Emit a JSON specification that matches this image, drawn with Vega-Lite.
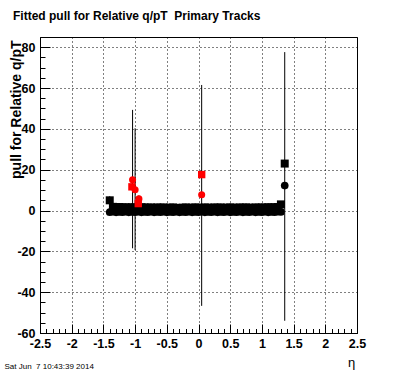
{
  "$schema": "https://vega.github.io/schema/vega-lite/v6.json",
  "width": 317,
  "height": 296,
  "autosize": {"type": "none"},
  "padding": {"left": 40, "top": 37, "right": 39, "bottom": 39},
  "background": "white",
  "title": {"text": "Fitted pull for Relative q/pT\u00a0 Primary Tracks", "anchor": "start", "frame": "group", "dx": -27, "offset": 5, "font": "Liberation Sans", "fontSize": 12, "fontWeight": "bold", "color": "black", "baseline": "alphabetic"},
  "data": {"values": [
    {"eta": -1.40, "pull": 5.0, "lo": 3.3, "hi": 7.0, "series": "set1"},
    {"eta": -1.35, "pull": 1.8, "lo": 1.2, "hi": 2.4, "series": "set1"},
    {"eta": -1.30, "pull": 1.6, "lo": 1.0, "hi": 2.2, "series": "set1"},
    {"eta": -1.25, "pull": 1.7, "lo": 1.1, "hi": 2.3, "series": "set1"},
    {"eta": -1.20, "pull": 1.5, "lo": 0.9, "hi": 2.1, "series": "set1"},
    {"eta": -1.15, "pull": 1.6, "lo": 1.0, "hi": 2.2, "series": "set1"},
    {"eta": -1.10, "pull": 1.4, "lo": 0.8, "hi": 2.0, "series": "set1"},
    {"eta": -1.05, "pull": 1.6, "lo": 1.0, "hi": 2.2, "series": "set1"},
    {"eta": -1.00, "pull": 1.5, "lo": 0.9, "hi": 2.1, "series": "set1"},
    {"eta": -0.95, "pull": 1.4, "lo": 0.8, "hi": 2.0, "series": "set1"},
    {"eta": -0.90, "pull": 1.6, "lo": 1.0, "hi": 2.2, "series": "set1"},
    {"eta": -0.85, "pull": 1.5, "lo": 0.9, "hi": 2.1, "series": "set1"},
    {"eta": -0.80, "pull": 1.4, "lo": 0.8, "hi": 2.0, "series": "set1"},
    {"eta": -0.75, "pull": 1.5, "lo": 0.9, "hi": 2.1, "series": "set1"},
    {"eta": -0.70, "pull": 1.3, "lo": 0.7, "hi": 1.9, "series": "set1"},
    {"eta": -0.65, "pull": 1.5, "lo": 0.9, "hi": 2.1, "series": "set1"},
    {"eta": -0.60, "pull": 1.4, "lo": 0.8, "hi": 2.0, "series": "set1"},
    {"eta": -0.55, "pull": 1.5, "lo": 0.9, "hi": 2.1, "series": "set1"},
    {"eta": -0.50, "pull": 1.3, "lo": 0.7, "hi": 1.9, "series": "set1"},
    {"eta": -0.45, "pull": 1.4, "lo": 0.8, "hi": 2.0, "series": "set1"},
    {"eta": -0.40, "pull": 1.5, "lo": 0.9, "hi": 2.1, "series": "set1"},
    {"eta": -0.35, "pull": 1.3, "lo": 0.7, "hi": 1.9, "series": "set1"},
    {"eta": -0.30, "pull": 0.9, "lo": 0.3, "hi": 1.5, "series": "set1"},
    {"eta": -0.25, "pull": 1.4, "lo": 0.8, "hi": 2.0, "series": "set1"},
    {"eta": -0.20, "pull": 1.5, "lo": 0.9, "hi": 2.1, "series": "set1"},
    {"eta": -0.15, "pull": 1.3, "lo": 0.7, "hi": 1.9, "series": "set1"},
    {"eta": -0.10, "pull": 1.4, "lo": 0.8, "hi": 2.0, "series": "set1"},
    {"eta": -0.05, "pull": 1.5, "lo": 0.9, "hi": 2.1, "series": "set1"},
    {"eta": 0.00, "pull": 1.4, "lo": 0.8, "hi": 2.0, "series": "set1"},
    {"eta": 0.05, "pull": 1.3, "lo": 0.7, "hi": 1.9, "series": "set1"},
    {"eta": 0.10, "pull": 1.5, "lo": 0.9, "hi": 2.1, "series": "set1"},
    {"eta": 0.15, "pull": 1.4, "lo": 0.8, "hi": 2.0, "series": "set1"},
    {"eta": 0.20, "pull": 1.3, "lo": 0.7, "hi": 1.9, "series": "set1"},
    {"eta": 0.25, "pull": 1.5, "lo": 0.9, "hi": 2.1, "series": "set1"},
    {"eta": 0.30, "pull": 1.4, "lo": 0.8, "hi": 2.0, "series": "set1"},
    {"eta": 0.35, "pull": 1.5, "lo": 0.9, "hi": 2.1, "series": "set1"},
    {"eta": 0.40, "pull": 1.3, "lo": 0.7, "hi": 1.9, "series": "set1"},
    {"eta": 0.45, "pull": 1.4, "lo": 0.8, "hi": 2.0, "series": "set1"},
    {"eta": 0.50, "pull": 1.5, "lo": 0.9, "hi": 2.1, "series": "set1"},
    {"eta": 0.55, "pull": 1.4, "lo": 0.8, "hi": 2.0, "series": "set1"},
    {"eta": 0.60, "pull": 1.3, "lo": 0.7, "hi": 1.9, "series": "set1"},
    {"eta": 0.65, "pull": 1.5, "lo": 0.9, "hi": 2.1, "series": "set1"},
    {"eta": 0.70, "pull": 1.4, "lo": 0.8, "hi": 2.0, "series": "set1"},
    {"eta": 0.75, "pull": 1.5, "lo": 0.9, "hi": 2.1, "series": "set1"},
    {"eta": 0.80, "pull": 1.4, "lo": 0.8, "hi": 2.0, "series": "set1"},
    {"eta": 0.85, "pull": 1.3, "lo": 0.7, "hi": 1.9, "series": "set1"},
    {"eta": 0.90, "pull": 1.5, "lo": 0.9, "hi": 2.1, "series": "set1"},
    {"eta": 0.95, "pull": 1.4, "lo": 0.8, "hi": 2.0, "series": "set1"},
    {"eta": 1.00, "pull": 1.5, "lo": 0.9, "hi": 2.1, "series": "set1"},
    {"eta": 1.05, "pull": 1.4, "lo": 0.8, "hi": 2.0, "series": "set1"},
    {"eta": 1.10, "pull": 1.6, "lo": 1.0, "hi": 2.2, "series": "set1"},
    {"eta": 1.15, "pull": 1.5, "lo": 0.9, "hi": 2.1, "series": "set1"},
    {"eta": 1.20, "pull": 1.6, "lo": 1.0, "hi": 2.2, "series": "set1"},
    {"eta": 1.25, "pull": 1.7, "lo": 1.1, "hi": 2.3, "series": "set1"},
    {"eta": 1.30, "pull": 3.0, "lo": 2.3, "hi": 3.7, "series": "set1"},
    {"eta": 1.36, "pull": 23.0, "lo": 21.5, "hi": 24.5, "series": "set1"},
    {"eta": -1.40, "pull": -0.8, "lo": -1.4, "hi": -0.2, "series": "set2"},
    {"eta": -1.35, "pull": -0.6, "lo": -1.2, "hi": 0.0, "series": "set2"},
    {"eta": -1.30, "pull": -0.9, "lo": -1.5, "hi": -0.3, "series": "set2"},
    {"eta": -1.25, "pull": -0.7, "lo": -1.3, "hi": -0.1, "series": "set2"},
    {"eta": -1.20, "pull": -0.8, "lo": -1.4, "hi": -0.2, "series": "set2"},
    {"eta": -1.15, "pull": -0.6, "lo": -1.2, "hi": 0.0, "series": "set2"},
    {"eta": -1.10, "pull": -0.9, "lo": -1.5, "hi": -0.3, "series": "set2"},
    {"eta": -1.05, "pull": -0.7, "lo": -1.3, "hi": -0.1, "series": "set2"},
    {"eta": -1.00, "pull": -0.8, "lo": -1.4, "hi": -0.2, "series": "set2"},
    {"eta": -0.95, "pull": -0.6, "lo": -1.2, "hi": 0.0, "series": "set2"},
    {"eta": -0.90, "pull": -0.9, "lo": -1.5, "hi": -0.3, "series": "set2"},
    {"eta": -0.85, "pull": -0.7, "lo": -1.3, "hi": -0.1, "series": "set2"},
    {"eta": -0.80, "pull": -0.8, "lo": -1.4, "hi": -0.2, "series": "set2"},
    {"eta": -0.75, "pull": -0.6, "lo": -1.2, "hi": 0.0, "series": "set2"},
    {"eta": -0.70, "pull": -0.9, "lo": -1.5, "hi": -0.3, "series": "set2"},
    {"eta": -0.65, "pull": -0.7, "lo": -1.3, "hi": -0.1, "series": "set2"},
    {"eta": -0.60, "pull": -0.8, "lo": -1.4, "hi": -0.2, "series": "set2"},
    {"eta": -0.55, "pull": -0.6, "lo": -1.2, "hi": 0.0, "series": "set2"},
    {"eta": -0.50, "pull": -0.9, "lo": -1.5, "hi": -0.3, "series": "set2"},
    {"eta": -0.45, "pull": -0.7, "lo": -1.3, "hi": -0.1, "series": "set2"},
    {"eta": -0.40, "pull": -0.8, "lo": -1.4, "hi": -0.2, "series": "set2"},
    {"eta": -0.35, "pull": -0.6, "lo": -1.2, "hi": 0.0, "series": "set2"},
    {"eta": -0.30, "pull": -0.9, "lo": -1.5, "hi": -0.3, "series": "set2"},
    {"eta": -0.25, "pull": -0.7, "lo": -1.3, "hi": -0.1, "series": "set2"},
    {"eta": -0.20, "pull": -0.8, "lo": -1.4, "hi": -0.2, "series": "set2"},
    {"eta": -0.15, "pull": -0.6, "lo": -1.2, "hi": 0.0, "series": "set2"},
    {"eta": -0.10, "pull": -0.9, "lo": -1.5, "hi": -0.3, "series": "set2"},
    {"eta": -0.05, "pull": -0.7, "lo": -1.3, "hi": -0.1, "series": "set2"},
    {"eta": 0.00, "pull": -0.8, "lo": -1.4, "hi": -0.2, "series": "set2"},
    {"eta": 0.05, "pull": -0.6, "lo": -1.2, "hi": 0.0, "series": "set2"},
    {"eta": 0.10, "pull": -0.9, "lo": -1.5, "hi": -0.3, "series": "set2"},
    {"eta": 0.15, "pull": -0.7, "lo": -1.3, "hi": -0.1, "series": "set2"},
    {"eta": 0.20, "pull": -0.8, "lo": -1.4, "hi": -0.2, "series": "set2"},
    {"eta": 0.25, "pull": -0.6, "lo": -1.2, "hi": 0.0, "series": "set2"},
    {"eta": 0.30, "pull": -0.9, "lo": -1.5, "hi": -0.3, "series": "set2"},
    {"eta": 0.35, "pull": -0.7, "lo": -1.3, "hi": -0.1, "series": "set2"},
    {"eta": 0.40, "pull": -0.8, "lo": -1.4, "hi": -0.2, "series": "set2"},
    {"eta": 0.45, "pull": -0.6, "lo": -1.2, "hi": 0.0, "series": "set2"},
    {"eta": 0.50, "pull": -0.9, "lo": -1.5, "hi": -0.3, "series": "set2"},
    {"eta": 0.55, "pull": -0.7, "lo": -1.3, "hi": -0.1, "series": "set2"},
    {"eta": 0.60, "pull": -0.8, "lo": -1.4, "hi": -0.2, "series": "set2"},
    {"eta": 0.65, "pull": -0.6, "lo": -1.2, "hi": 0.0, "series": "set2"},
    {"eta": 0.70, "pull": -0.9, "lo": -1.5, "hi": -0.3, "series": "set2"},
    {"eta": 0.75, "pull": -0.7, "lo": -1.3, "hi": -0.1, "series": "set2"},
    {"eta": 0.80, "pull": -0.8, "lo": -1.4, "hi": -0.2, "series": "set2"},
    {"eta": 0.85, "pull": -0.6, "lo": -1.2, "hi": 0.0, "series": "set2"},
    {"eta": 0.90, "pull": -0.9, "lo": -1.5, "hi": -0.3, "series": "set2"},
    {"eta": 0.95, "pull": -0.7, "lo": -1.3, "hi": -0.1, "series": "set2"},
    {"eta": 1.00, "pull": -0.8, "lo": -1.4, "hi": -0.2, "series": "set2"},
    {"eta": 1.05, "pull": -0.6, "lo": -1.2, "hi": 0.0, "series": "set2"},
    {"eta": 1.10, "pull": -0.9, "lo": -1.5, "hi": -0.3, "series": "set2"},
    {"eta": 1.15, "pull": -0.7, "lo": -1.3, "hi": -0.1, "series": "set2"},
    {"eta": 1.20, "pull": -0.8, "lo": -1.4, "hi": -0.2, "series": "set2"},
    {"eta": 1.25, "pull": -0.6, "lo": -1.2, "hi": 0.0, "series": "set2"},
    {"eta": 1.30, "pull": -0.7, "lo": -1.3, "hi": -0.1, "series": "set2"},
    {"eta": 1.36, "pull": 12.2, "lo": -54.0, "hi": 77.6, "series": "set2"},
    {"eta": -1.05, "pull": 11.6, "lo": 10.0, "hi": 13.2, "series": "set3"},
    {"eta": -0.95, "pull": 3.4, "lo": 2.0, "hi": 4.8, "series": "set3"},
    {"eta": 0.05, "pull": 17.6, "lo": 16.2, "hi": 19.0, "series": "set3"},
    {"eta": -1.04, "pull": 15.1, "lo": -18.5, "hi": 49.3, "series": "set4"},
    {"eta": -1.00, "pull": 10.2, "lo": -19.4, "hi": 40.3, "series": "set4"},
    {"eta": -0.94, "pull": 5.7, "lo": 4.0, "hi": 7.4, "series": "set4"},
    {"eta": 0.05, "pull": 7.7, "lo": -46.7, "hi": 61.5, "series": "set4"}
  ]},
  "layer": [
    {
      "mark": {"type": "rule", "color": "black", "strokeWidth": 1},
      "encoding": {
        "x": {"field": "eta", "type": "quantitative", "scale": {"domain": [-2.5, 2.5], "nice": false, "zero": false},
          "axis": {"orient": "bottom", "values": [-2.5,-2.4,-2.3,-2.2,-2.1,-2.0,-1.9,-1.8,-1.7,-1.6,-1.5,-1.4,-1.3,-1.2,-1.1,-1.0,-0.9,-0.8,-0.7,-0.6,-0.5,-0.4,-0.3,-0.2,-0.1,0,0.1,0.2,0.3,0.4,0.5,0.6,0.7,0.8,0.9,1.0,1.1,1.2,1.3,1.4,1.5,1.6,1.7,1.8,1.9,2.0,2.1,2.2,2.3,2.4,2.5],
            "labels": false, "grid": false, "domain": false, "ticks": true, "tickSize": -4.5, "tickColor": "black", "tickWidth": 1,
            "title": "Sat Jun\u00a0 7 10:43:39 2014", "titleX": -36, "titleY": 35, "titleAlign": "left", "titleAnchor": null, "titleBaseline": "alphabetic", "titleFont": "Liberation Sans", "titleFontSize": 8, "titleFontWeight": "normal", "titleColor": "black"}},
        "y": {"field": "lo", "type": "quantitative", "scale": {"domain": [-60, 85], "nice": false, "zero": false},
          "axis": {"orient": "left", "values": [-60,-55,-50,-45,-40,-35,-30,-25,-20,-15,-10,-5,0,5,10,15,20,25,30,35,40,45,50,55,60,65,70,75,80,85],
            "labels": false, "grid": false, "domain": false, "ticks": true, "tickSize": -5, "tickColor": "black", "tickWidth": 1, "title": null}},
        "y2": {"field": "hi"}
      }
    },
    {
      "mark": {"type": "point", "filled": true, "opacity": 1, "strokeWidth": 0},
      "encoding": {
        "x": {"field": "eta", "type": "quantitative", "scale": {"domain": [-2.5, 2.5], "nice": false, "zero": false},
          "axis": {"orient": "bottom", "values": [-2.5,-2,-1.5,-1,-0.5,0,0.5,1,1.5,2,2.5], "labelExpr": "'' + datum.value",
            "grid": true, "gridDash": [1, 3], "gridColor": "black", "gridOpacity": 1, "gridWidth": 1,
            "domain": false, "ticks": true, "tickSize": -9, "tickColor": "black", "tickWidth": 1, "labelPadding": 13,
            "labelFont": "Liberation Sans", "labelFontWeight": "bold", "labelFontSize": 12.5, "labelColor": "black", "labelFlush": false, "labelOverlap": false,
            "title": "η", "titleX": 311, "titleY": 33, "titleAlign": "center", "titleAnchor": null, "titleBaseline": "alphabetic", "titleFont": "Liberation Sans", "titleFontSize": 13, "titleFontWeight": "normal", "titleColor": "black"}},
        "y": {"field": "pull", "type": "quantitative", "scale": {"domain": [-60, 85], "nice": false, "zero": false},
          "axis": {"orient": "left", "values": [-60,-40,-20,0,20,40,60,80], "labelExpr": "'' + datum.value",
            "grid": true, "gridDash": [1, 3], "gridColor": "black", "gridOpacity": 1, "gridWidth": 1,
            "domain": false, "ticks": true, "tickSize": -10, "tickColor": "black", "tickWidth": 1, "labelPadding": 15, "labelAlign": "right", "labelBaseline": "middle",
            "labelFont": "Liberation Sans", "labelFontWeight": "bold", "labelFontSize": 12.5, "labelColor": "black", "labelFlush": false, "labelOverlap": false,
            "title": "pull for Relative q/pT", "titleAngle": 270, "titleX": -20, "titleY": 3, "titleAlign": "right", "titleAnchor": null, "titleBaseline": "alphabetic",
            "titleFont": "Liberation Sans", "titleFontSize": 14, "titleFontWeight": "bold", "titleColor": "black"}},
        "shape": {"field": "series", "type": "nominal", "scale": {"domain": ["set1", "set2", "set3", "set4"], "range": ["square", "circle", "square", "circle"]}, "legend": null},
        "color": {"field": "series", "type": "nominal", "scale": {"domain": ["set1", "set2", "set3", "set4"], "range": ["black", "black", "red", "red"]}, "legend": null},
        "size": {"field": "series", "type": "nominal", "scale": {"domain": ["set1", "set2", "set3", "set4"], "range": [64, 50, 64, 50]}, "legend": null}
      }
    }
  ],
  "resolve": {"scale": {"x": "independent", "y": "independent"}, "axis": {"x": "independent", "y": "independent"}},
  "config": {"view": {"stroke": "black", "strokeWidth": 1, "fill": "white"}}
}
